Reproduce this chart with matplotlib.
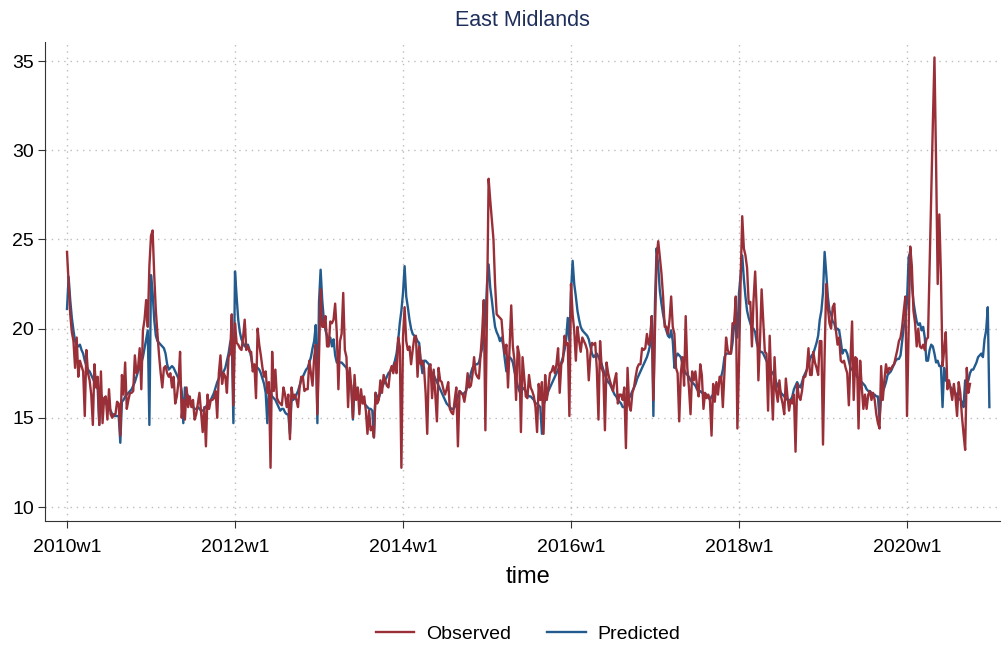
import numpy as np
import matplotlib
matplotlib.use("Agg")
import matplotlib.pyplot as plt
from matplotlib.lines import Line2D

plt.rcParams['font.family'] = ['Liberation Sans', 'DejaVu Sans']

# weekly values, one list per year (week 1 .. week 52)
obs_2010 = [24.3, 22.5, 20.8, 19.8, 19.3, 17.8, 19.5, 17.3, 18.2, 17.9,
            17.6, 15.1, 18.8, 17.5, 17.1, 16.3, 14.6, 18.0, 16.7, 17.3,
            14.6, 17.6, 14.7, 16.1, 16.2, 14.9, 16.6, 15.2, 15.0, 15.2,
            15.2, 15.9, 15.8, 14.0, 17.4, 16.3, 18.1, 15.5, 16.0, 16.4,
            16.4, 16.5, 18.5, 17.5, 17.8, 18.9, 16.6, 19.9, 20.5, 21.6,
            20.1, 23.5]
pred_2010 = [21.1, 22.9, 21.6, 20.6, 19.9, 19.3, 19.1, 19.0, 19.1, 18.8,
             18.6, 18.2, 17.9, 17.7, 17.6, 17.4, 17.2, 17.0, 16.8, 16.6,
             14.6, 16.3, 16.1, 15.9, 15.8, 15.7, 15.6, 15.4, 15.2, 15.1,
             15.1, 15.1, 15.1, 13.6, 15.9, 16.0, 16.2, 16.3, 16.4, 16.5,
             16.6, 16.8, 17.0, 17.3, 17.6, 17.8, 18.1, 18.4, 18.9, 19.4,
             19.9, 14.6]

obs_2011 = [25.2, 25.5, 23.0, 21.0, 19.7, 18.5, 17.5, 16.7, 17.8, 17.9,
            17.5, 17.3, 17.5, 16.7, 17.3, 15.8, 16.2, 17.0, 18.7, 15.0,
            16.0, 14.9, 16.7, 15.6, 16.2, 15.6, 16.0, 14.9, 15.2, 15.8,
            16.4, 15.3, 14.2, 15.6, 13.4, 16.3, 15.5, 16.0, 16.0, 16.1,
            16.5, 15.0, 17.5, 18.5, 16.9, 17.5, 17.3, 16.4, 18.4, 18.6,
            20.8, 15.7]
pred_2011 = [23.0, 22.0, 20.5, 19.6, 19.3, 19.2, 19.1, 19.0, 18.9, 18.6,
             18.0, 17.7, 17.8, 17.9, 17.8, 17.6, 17.4, 17.2, 17.0, 16.5,
             14.7, 16.7, 16.4, 16.2, 16.0, 15.8, 15.6, 15.5, 15.5, 15.6,
             15.5, 15.4, 15.4, 15.5, 15.6, 15.8, 15.9, 16.0, 16.2, 16.4,
             16.7, 17.0, 17.2, 17.5, 17.5, 17.6, 17.8, 18.2, 18.6, 19.2,
             19.5, 14.7]

obs_2012 = [20.3, 19.2, 19.1, 18.9, 18.8, 19.5, 20.5, 18.8, 19.0, 18.7,
            18.7, 17.6, 18.0, 16.1, 20.0, 19.1, 18.5, 17.8, 17.3, 17.6,
            16.4, 17.0, 12.2, 18.7, 16.5, 17.7, 16.1, 15.9, 15.8, 15.7,
            16.7, 16.3, 15.6, 16.3, 13.8, 16.7, 16.1, 16.3, 16.0, 15.6,
            16.7, 17.3, 17.3, 16.5, 16.6, 16.6, 18.2, 17.5, 16.8, 18.4,
            19.1, 15.2]
pred_2012 = [23.2, 21.8, 20.5, 19.8, 19.4, 19.2, 19.0, 19.0, 19.1, 18.8,
             18.4, 17.8, 17.8, 17.9, 17.8, 17.7, 17.5, 17.2, 16.9, 16.4,
             14.7, 16.6, 16.4, 16.2, 16.1, 16.0, 15.8, 15.6, 15.4, 15.5,
             15.5, 15.3, 15.2, 15.2, 14.1, 16.0, 16.0, 16.1, 16.3, 16.5,
             16.8, 17.1, 17.3, 17.5, 17.7, 17.8, 18.1, 18.4, 18.9, 19.3,
             20.2, 14.7]

obs_2013 = [18.4, 22.2, 20.1, 20.1, 20.7, 19.0, 19.0, 20.4, 20.3, 20.5,
            21.4, 19.8, 16.6, 19.3, 19.7, 22.0, 18.8, 18.4, 15.6, 17.8,
            16.7, 15.0, 17.4, 16.0, 16.7, 15.2, 16.6, 15.8, 16.2, 15.4,
            14.1, 15.4, 14.3, 14.5, 13.9, 16.4, 15.8, 16.0, 17.1, 16.4,
            17.4, 17.1, 16.8, 16.7, 17.6, 17.9, 17.5, 18.1, 17.5, 19.5,
            19.0, 12.2]
pred_2013 = [21.5, 23.3, 21.6, 20.5, 19.9, 19.6, 19.4, 19.5, 19.0, 19.4,
             18.5, 18.1, 18.1, 18.1, 18.1, 18.0, 17.9, 17.8, 17.5, 17.1,
             16.8, 14.9, 16.8, 16.5, 16.3, 16.1, 16.0, 15.9, 15.8, 15.7,
             15.6, 15.5, 15.5, 15.4, 13.9, 16.4, 16.2, 16.1, 16.4, 16.7,
             16.9, 17.1, 17.3, 17.5, 17.6, 17.7, 17.9, 18.2, 18.6, 19.3,
             20.3, 21.0]

obs_2014 = [19.5, 21.2, 19.3, 18.8, 19.0, 18.0, 18.8, 19.5, 19.6, 17.3,
            19.0, 18.0, 18.2, 17.8, 16.4, 14.1, 17.8, 18.0, 16.1, 17.7,
            16.3, 14.8, 17.8, 17.1, 17.0, 16.6, 16.3, 16.6, 17.0, 15.5,
            15.3, 15.2, 16.0, 16.7, 13.4, 16.5, 16.4, 16.3, 15.9, 16.5,
            17.5, 16.7, 16.8, 17.4, 18.4, 17.5, 17.3, 17.2, 18.5, 19.8,
            21.6, 14.3]
pred_2014 = [22.0, 23.5, 21.8, 21.2, 20.5, 20.0, 19.7, 19.6, 19.5, 19.3,
             19.2, 18.2, 17.5, 18.2, 18.2, 18.1, 18.0, 17.7, 17.5, 17.4,
             17.2, 17.0, 16.8, 16.6, 16.4, 16.2, 16.0, 15.8, 15.7, 15.6,
             15.5, 15.5, 15.6, 15.9, 16.2, 16.5, 16.4, 16.3, 16.4, 16.5,
             16.8, 17.1, 17.5, 17.8, 17.9, 18.0, 18.0, 18.1, 18.5, 18.9,
             19.6, 20.5]

obs_2015 = [21.0, 28.4, 27.2, 26.1, 25.0, 22.5, 20.8, 20.7, 20.6, 20.5,
            19.3, 18.6, 19.1, 16.7, 19.0, 21.3, 19.0, 18.2, 16.0, 19.0,
            18.5, 14.2, 18.4, 17.3, 16.2, 16.1, 17.4, 16.7, 16.5, 16.2,
            15.6, 14.2, 16.9, 16.0, 17.0, 14.1, 17.4, 16.0, 16.7, 17.5,
            17.6, 17.9, 17.5, 18.0, 18.9, 16.4, 18.0, 18.2, 19.6, 19.1,
            19.2, 15.1]
pred_2015 = [22.5, 23.6, 22.3, 21.6, 20.8, 20.1, 19.8, 19.6, 19.3, 19.5,
             19.1, 18.3, 17.6, 18.4, 18.4, 18.3, 18.1, 17.6, 17.2, 16.8,
             16.5, 16.3, 16.7, 16.6, 16.5, 16.3, 16.2, 16.2, 16.1, 16.0,
             15.8, 15.8, 15.7, 15.6, 14.1, 15.7, 16.0, 16.2, 16.5, 16.7,
             16.9, 17.1, 17.3, 17.5, 17.7, 17.9, 18.1, 18.4, 18.8, 19.4,
             20.6, 19.3]

obs_2016 = [22.5, 20.8, 19.9, 18.2, 20.1, 19.3, 18.7, 19.5, 19.3, 19.1,
            18.8, 17.1, 18.5, 19.2, 19.1, 19.2, 17.7, 14.9, 19.3, 17.8,
            17.5, 14.3, 18.1, 17.5, 17.1, 16.8, 16.5, 17.1, 17.5, 15.8,
            16.3, 16.3, 16.0, 16.7, 13.3, 17.8, 15.7, 15.4, 16.4, 16.7,
            17.3, 17.8, 18.0, 18.0, 18.9, 18.8, 18.9, 19.7, 19.1, 19.5,
            20.7, 16.0]
pred_2016 = [22.0, 23.8, 22.5, 21.8, 21.0, 20.5, 20.1, 19.9, 19.8, 19.7,
             19.6, 19.4, 19.0, 18.6, 18.4, 18.5, 18.6, 18.4, 18.2, 18.0,
             17.7, 17.4, 17.2, 17.0, 16.9, 16.7, 16.5, 16.3, 16.2, 16.0,
             15.9, 15.8, 15.6, 15.6, 15.7, 15.9, 16.1, 16.3, 16.5, 16.7,
             16.9, 17.2, 17.4, 17.6, 17.8, 18.0, 18.2, 18.4, 18.7, 19.1,
             20.7, 15.1]

obs_2017 = [20.0, 24.0, 24.9, 24.0, 23.1, 21.8, 20.1, 20.1, 19.7, 20.5,
            21.8, 20.1, 19.7, 17.8, 17.5, 14.8, 17.5, 18.4, 16.8, 20.7,
            17.8, 16.7, 15.2, 17.6, 17.1, 17.6, 16.8, 16.2, 18.0, 17.4,
            15.5, 16.4, 16.1, 16.3, 16.0, 14.0, 16.9, 15.9, 17.0, 16.3,
            17.3, 17.3, 15.6, 17.5, 19.5, 18.8, 18.6, 18.6, 20.3, 20.3,
            21.8, 14.4]
pred_2017 = [21.5, 24.5, 23.5, 22.1, 21.4, 20.8, 20.3, 19.9, 19.6, 19.5,
             19.9, 19.3, 17.8, 18.4, 18.6, 18.5, 18.4, 18.0, 17.7, 17.5,
             17.4, 17.3, 17.1, 17.0, 16.9, 16.8, 16.6, 16.5, 16.5, 16.4,
             16.4, 16.3, 16.3, 16.2, 16.0, 16.2, 16.3, 16.4, 16.5, 16.7,
             17.0, 17.3, 17.7, 18.4, 18.6, 18.6, 18.6, 18.6, 19.2, 20.2,
             21.0, 19.5]

obs_2018 = [18.0, 22.7, 26.3, 24.5, 24.1, 23.4, 21.4, 21.5, 19.0, 21.6,
            23.2, 21.0, 17.1, 19.3, 22.2, 20.5, 18.7, 18.6, 15.4, 19.6,
            16.9, 14.9, 18.4, 16.5, 15.9, 17.1, 16.2, 15.8, 15.2, 17.2,
            16.2, 15.4, 16.0, 15.8, 16.3, 13.1, 16.9, 16.2, 16.0, 16.5,
            17.3, 17.3, 17.7, 18.9, 17.4, 17.4, 18.7, 18.1, 17.8, 17.4,
            19.3, 19.3]
pred_2018 = [22.0, 23.0, 24.1, 22.8, 21.8, 21.0, 20.6, 20.3, 20.0, 20.0,
             19.8, 19.2, 18.9, 18.7, 18.7, 18.6, 18.4, 18.2, 18.0, 17.8,
             17.6, 17.5, 17.3, 17.0, 16.8, 16.6, 16.4, 16.3, 16.2, 16.1,
             16.0, 16.0, 16.0, 16.2, 16.6, 16.8, 17.0, 16.8, 16.7, 17.0,
             17.3, 17.5, 17.7, 18.0, 18.3, 18.5, 18.6, 18.9, 19.2, 19.6,
             20.5, 21.0]

obs_2019 = [13.5, 18.5, 22.5, 21.2, 20.3, 20.0, 21.2, 21.4, 19.9, 19.1,
            19.5, 18.2, 18.1, 18.2, 17.8, 17.5, 15.7, 18.2, 20.4, 16.0,
            18.4, 18.3, 14.4, 18.2, 16.7, 15.5, 16.3, 15.5, 16.3, 16.5,
            16.0, 16.4, 16.0, 15.2, 14.7, 14.4, 17.9, 16.0, 17.1, 18.0,
            17.5, 17.8, 17.7, 17.9, 18.0, 18.4, 18.8, 19.3, 19.5, 20.1,
            21.0, 21.8]
pred_2019 = [22.0, 24.3, 23.1, 21.8, 21.0, 20.8, 20.4, 20.3, 19.9, 20.0,
             19.9, 19.3, 18.6, 18.8, 18.8, 18.6, 18.2, 17.8, 17.7, 17.6,
             17.5, 17.3, 17.2, 17.0, 17.0, 16.9, 16.8, 16.6, 16.5, 16.5,
             16.4, 16.3, 16.3, 16.2, 16.2, 14.9, 16.2, 16.5, 16.7, 17.0,
             17.4, 17.5, 17.6, 17.8, 18.0, 18.2, 18.3, 18.3, 18.5, 19.3,
             20.1, 20.5]

# observed series stops at 2020w40
obs_2020 = [15.1, 20.0, 24.6, 23.5, 21.0, 20.3, 19.0, 20.0, 19.0, 18.9,
            19.1, 18.8, 19.4, 19.5, 23.5, 27.5, 31.5, 35.2, 29.3, 22.5,
            26.4, 23.0, 17.9, 18.8, 19.8, 16.6, 17.1, 16.6, 16.0, 16.9,
            16.2, 15.1, 17.0, 16.4, 15.1, 14.1, 13.2, 17.8, 16.4, 16.9]
pred_2020 = [21.5, 24.0, 24.3, 22.5, 21.5, 20.9, 20.4, 20.2, 20.3, 19.9,
             20.1, 19.5, 18.2, 18.2, 18.8, 19.1, 19.0, 18.6, 18.1, 18.2,
             17.9, 17.9, 15.6, 17.8, 17.1, 17.0, 16.9, 16.7, 16.6, 16.5,
             16.4, 16.2, 16.1, 16.0, 15.9, 15.6, 17.1, 17.0, 17.1, 17.5,
             17.7, 17.7, 17.9, 18.1, 18.4, 18.5, 18.6, 18.4, 19.4, 19.9,
             21.2, 15.6]

years = list(range(2010, 2021))
observed = [obs_2010, obs_2011, obs_2012, obs_2013, obs_2014, obs_2015,
            obs_2016, obs_2017, obs_2018, obs_2019, obs_2020]
predicted = [pred_2010, pred_2011, pred_2012, pred_2013, pred_2014, pred_2015,
             pred_2016, pred_2017, pred_2018, pred_2019, pred_2020]

tick_years = [2010, 2012, 2014, 2016, 2018, 2020]
tick_labels = [f"{y}w1" for y in tick_years]


def stack(series):
    # weeks counted from 2010w1, 52 weeks per year (Stata %tw)
    x, y = [], []
    for yr, vals in zip(years, series):
        x.extend(52 * (yr - 2010) + np.arange(len(vals)))
        y.extend(vals)
    return np.array(x), np.array(y)


x_obs, y_obs = stack(observed)
x_pred, y_pred = stack(predicted)

red = '#9a2f37'
blue = '#235b8e'

fig = plt.figure(figsize=(10.04, 6.5), dpi=100)
ax = fig.add_axes([45 / 1004, 1 - 521 / 650, 955 / 1004, 479 / 650])

ax.plot(x_pred, y_pred, color=blue, lw=1.7, zorder=3)
ax.plot(x_obs, y_obs, color=red, lw=1.7, zorder=4)

px_week = 168 / 104
ax.set_xlim(-22 / px_week, 933 / px_week)
ax.set_ylim(10 - 14 / 17.84, 35 + 19 / 17.84)

ax.set_yticks([10, 15, 20, 25, 30, 35])
ax.set_xticks([52 * (y - 2010) for y in tick_years])
ax.set_xticklabels(tick_labels)
ax.tick_params(labelsize=14, length=5, width=0.8, color='#333333')
ax.tick_params(axis='x', pad=8)
ax.tick_params(axis='y', pad=3)

ax.grid(True, color='#bdbdbd', linestyle=(0, (1, 3.5)), linewidth=1.0)
ax.set_axisbelow(True)
for side in ['top', 'right']:
    ax.spines[side].set_visible(False)
for side in ['left', 'bottom']:
    ax.spines[side].set_linewidth(0.8)
    ax.spines[side].set_color('#333333')

fig.text(522 / 1004, 1 - 20 / 650, 'East Midlands', ha='center', va='center',
         fontsize=15.5, color='#1e2f5c')
fig.text(528 / 1004, 1 - 577 / 650, 'time', ha='center', va='center', fontsize=17)

handles = [Line2D([], [], color=red, lw=1.7), Line2D([], [], color=blue, lw=1.7)]
fig.legend(handles, ['Observed', 'Predicted'], loc='center',
           bbox_to_anchor=(528 / 1004, 1 - 634 / 650), ncol=2, frameon=False,
           fontsize=14, handlelength=2.0, columnspacing=1.85, handletextpad=0.6)

fig.savefig('out.png', dpi=100)
